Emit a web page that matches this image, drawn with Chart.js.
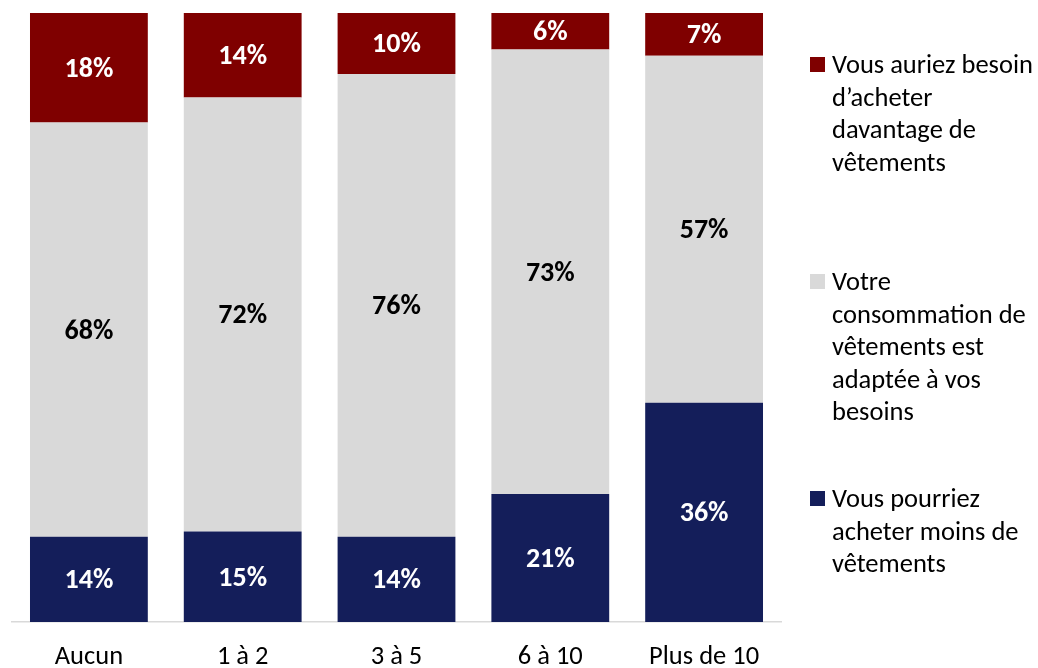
<!DOCTYPE html>
<html>
<head>
<meta charset="utf-8">
<script src="https://cdn.jsdelivr.net/npm/chart.js@4/dist/chart.umd.min.js"></script>
<style>
  html, body { margin: 0; padding: 0; background: #ffffff; }
  #wrap { position: relative; width: 1038px; height: 668px; overflow: hidden; }
  #c { position: absolute; left: 0; top: 0; }
  #legend { position: absolute; left: 808px; top: 0; width: 230px; font-family: Carlito, Lato, "Noto Sans", sans-serif; font-size: 26.5px; line-height: 32.5px; color: #000; }
  .item { position: absolute; left: 0; }
  .sw { position: absolute; left: 2px; top: 9px; width: 15px; height: 15px; }
  .txt { position: absolute; left: 24px; top: 0; width: 214px; white-space: nowrap; }
</style>
</head>
<body>
<div id="wrap">
  <canvas id="c" width="1038" height="668"></canvas>
  <div id="legend"></div>
</div>
<script>
const categories = ["Aucun", "1 à 2", "3 à 5", "6 à 10", "Plus de 10"];
const moins = [14, 15, 14, 21, 36];
const adaptee = [68, 72, 76, 73, 57];
const davantage = [18, 14, 10, 6, 7];

const labelMoins = ["Vous pourriez", "acheter moins de", "vêtements"];
const labelAdaptee = ["Votre", "consommation de", "vêtements est", "adaptée à vos", "besoins"];
const labelDavantage = ["Vous auriez besoin", "d’acheter", "davantage de", "vêtements"];

const colMoins = "#141e5a";
const colAdaptee = "#d9d9d9";
const colDavantage = "#7f0000";

const FONT = 'Carlito, Lato, "Noto Sans", sans-serif';

const totals = categories.map((_, i) => moins[i] + adaptee[i] + davantage[i]);
const share = arr => arr.map((v, i) => v / totals[i] * 100);

const datasets = [
  { label: labelMoins, raw: moins, data: share(moins), backgroundColor: colMoins, textColor: "#ffffff" },
  { label: labelAdaptee, raw: adaptee, data: share(adaptee), backgroundColor: colAdaptee, textColor: "#000000" },
  { label: labelDavantage, raw: davantage, data: share(davantage), backgroundColor: colDavantage, textColor: "#ffffff" }
];

const valueLabels = {
  id: "valueLabels",
  afterDatasetsDraw(chart) {
    const ctx = chart.ctx;
    ctx.save();
    ctx.font = "bold 28px " + FONT;
    ctx.textAlign = "center";
    ctx.textBaseline = "middle";
    chart.data.datasets.forEach((ds, di) => {
      const meta = chart.getDatasetMeta(di);
      meta.data.forEach((bar, i) => {
        const y = (bar.y + bar.base) / 2;
        ctx.fillStyle = ds.textColor;
        ctx.fillText(ds.raw[i] + "%", bar.x, y + 2);
      });
    });
    ctx.restore();
  }
};

const chart = new Chart(document.getElementById("c"), {
  type: "bar",
  data: { labels: categories, datasets: datasets.map(d => ({
    label: d.label.join(" "), data: d.data, raw: d.raw, textColor: d.textColor,
    backgroundColor: d.backgroundColor, borderWidth: 0,
    categoryPercentage: 1.0, barPercentage: 0.766
  })) },
  options: {
    responsive: false,
    animation: false,
    devicePixelRatio: 1,
    layout: { padding: { left: 12, right: 257, top: 13, bottom: 0 } },
    plugins: { legend: { display: false }, tooltip: { enabled: false } },
    scales: {
      x: {
        stacked: true,
        grid: { display: false, drawTicks: false },
        border: { display: true, color: "#d9d9d9", width: 1.5 },
        ticks: { color: "#000", font: { family: FONT, size: 26.5, lineHeight: 1.0 }, padding: 22 },
        afterFit: (scale) => { scale.height = 46; }
      },
      y: {
        stacked: true, display: false, min: 0, max: 100
      }
    }
  },
  plugins: [valueLabels]
});

// HTML legend
const legendItems = [
  { ds: datasets[2], top: 48 },
  { ds: datasets[1], top: 265 },
  { ds: datasets[0], top: 482 }
];
const leg = document.getElementById("legend");
legendItems.forEach(it => {
  const d = document.createElement("div");
  d.className = "item";
  d.style.top = it.top + "px";
  const sw = document.createElement("div");
  sw.className = "sw";
  sw.style.background = it.ds.backgroundColor;
  const t = document.createElement("div");
  t.className = "txt";
  t.innerHTML = it.ds.label.map(s => s.replace(/&/g, "&amp;").replace(/</g, "&lt;")).join("<br>");
  d.appendChild(sw); d.appendChild(t);
  leg.appendChild(d);
});
</script>
</body>
</html>
